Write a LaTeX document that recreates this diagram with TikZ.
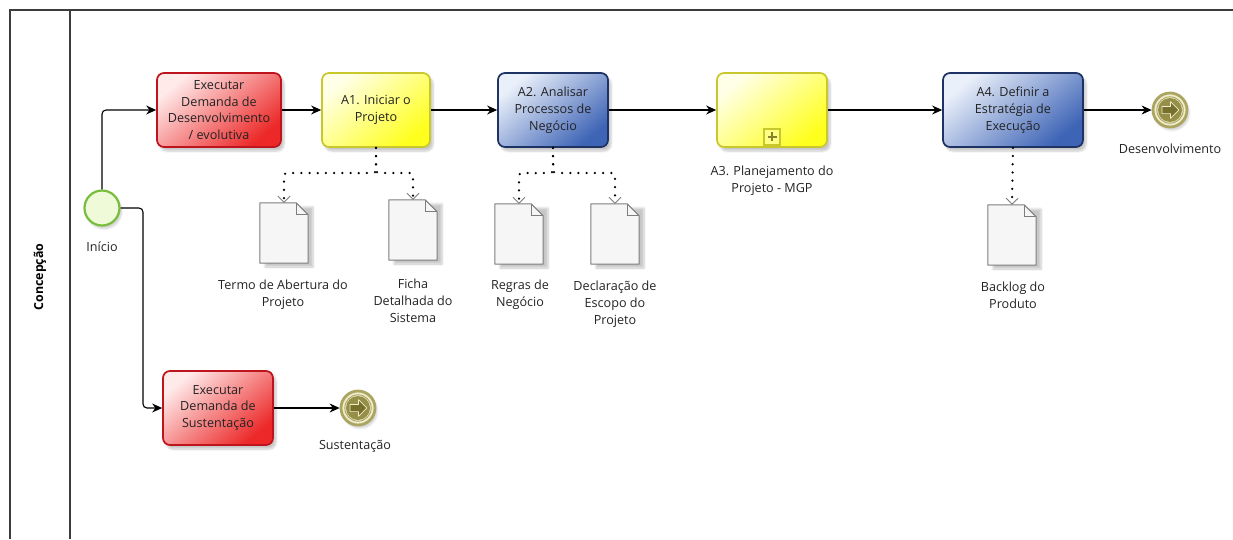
\documentclass[tikz,border=0pt]{standalone}
\usepackage{fontspec}
\setmainfont{Open Sans}
\usetikzlibrary{arrows.meta,shadows.blur,calc}

\definecolor{txt}{RGB}{35,35,35}
\definecolor{frameC}{RGB}{60,60,60}
\definecolor{redB}{RGB}{190,20,30}
\definecolor{redL}{RGB}{255,234,234}
\definecolor{redD}{RGB}{236,40,40}
\definecolor{yelB}{RGB}{200,200,45}
\definecolor{yelL}{RGB}{255,255,232}
\definecolor{yelD}{RGB}{255,255,30}
\definecolor{bluB}{RGB}{30,50,100}
\definecolor{bluL}{RGB}{234,240,250}
\definecolor{bluD}{RGB}{62,100,182}
\definecolor{grnB}{RGB}{120,190,60}
\definecolor{grnF}{RGB}{238,250,216}
\definecolor{olvR}{RGB}{172,165,98}
\definecolor{olvF}{RGB}{240,237,205}
\definecolor{olvD}{RGB}{150,143,72}
\definecolor{olvA}{RGB}{118,112,44}
\definecolor{docB}{RGB}{125,125,125}
\definecolor{docF}{RGB}{246,246,246}

\tikzset{
  lbl/.style={align=center, text=txt, inner sep=0pt,
    font=\fontsize{12.6}{16.8}\selectfont},
  task/.style={lbl, draw, rounded corners=7pt, line width=1.7pt,
    minimum height=74pt,
    blur shadow={shadow xshift=3pt, shadow yshift=-4pt,
      shadow blur steps=6, shadow opacity=22}},
  redtask/.style={task, draw=redB, top color=redL, bottom color=redD,
    shading angle=40, minimum width=#1},
  yeltask/.style={task, draw=yelB, top color=yelL, bottom color=yelD,
    shading angle=40, minimum width=#1},
  blutask/.style={task, draw=bluB, top color=bluL, bottom color=bluD,
    shading angle=40, minimum width=#1},
  startev/.style={circle, draw=grnB, fill=grnF, line width=2.2pt,
    minimum size=35pt, inner sep=0pt,
    blur shadow={shadow xshift=2pt, shadow yshift=-3pt,
      shadow blur steps=5, shadow opacity=20}},
  endev/.style={circle, draw=olvR, fill=olvF, line width=2.8pt,
    minimum size=34pt, inner sep=0pt,
    blur shadow={shadow xshift=2pt, shadow yshift=-3pt,
      shadow blur steps=5, shadow opacity=20}},
  docbox/.style={rectangle, minimum width=48pt, minimum height=60pt,
    inner sep=0pt,
    blur shadow={shadow xshift=5pt, shadow yshift=-4pt,
      shadow blur steps=6, shadow opacity=22}},
  seq/.style={draw=black, line width=1.1pt, rounded corners=4pt,
    -{Stealth[length=10pt, width=9pt]}},
  assoc/.style={draw=black, line width=2.5pt, line cap=round,
    dash pattern=on 0pt off 8.2pt, rounded corners=3pt,
    -{Straight Barb[length=6pt, width=12pt, line width=0.9pt, color=docB]}},
}

% document (data object) with folded corner
\newcommand\docicon[2]{%
  \node[docbox] (#1) at (#2) {};
  \draw[docB, fill=docF, line width=1pt, line join=round]
    (#1.north west) -- ([xshift=-12pt]#1.north east)
    -- ([yshift=-12pt]#1.north east) -- (#1.south east)
    -- (#1.south west) -- cycle;
  \draw[docB, line width=0.8pt]
    ([xshift=-12pt]#1.north east) |- ([yshift=-12pt]#1.north east);
}

% end event: ring, inner disk and right-pointing arrow
\newcommand\finalevent[2]{%
  \node[endev] (#1) at (#2) {};
  \draw[olvR, line width=0.9pt] (#1.center) circle (13.2pt);
  \fill[olvD] (#1.center) circle (12pt);
  \begin{scope}[shift={(#1.center)}]
    \filldraw[fill=olvA, draw=olvF, line width=0.7pt, line join=round]
      (-8,-3.6) -- (0.5,-3.6) -- (0.5,-8.3) -- (8.8,0) -- (0.5,8.3)
      -- (0.5,3.6) -- (-8,3.6) -- cycle;
  \end{scope}
}

\begin{document}
\begin{tikzpicture}[x=1pt, y=-1pt]
\useasboundingbox (0,0) rectangle (1233,539);

% pool and lane frame
\draw[frameC, line width=1.2pt] (1233,10) -- (10,10) -- (10,539);
\draw[frameC, line width=1.2pt] (70,10) -- (70,539);
\node[rotate=90, text=black, font=\fontsize{12.4}{14}\selectfont\bfseries]
  (lane) at (40,277) {Concepção};

% events
\node[startev] (start) at (102,208) {};
\node[lbl] (startL) at (102,247) {Início};
\finalevent{endD}{1170,110}
\node[lbl] (endDL) at (1170,149) {Desenvolvimento};
\finalevent{endS}{358,408}
\node[lbl] (endSL) at (355,446) {Sustentação};

% tasks
\node[redtask=124pt] (t1) at (219,110)
  {Executar\\Demanda de\\Desenvolvimento\\/ evolutiva};
\node[yeltask=108pt] (a1) at (376,110) {A1. Iniciar o\\Projeto};
\node[blutask=110pt] (a2) at (553,110)
  {A2. Analisar\\Processos de\\Negócio};
\node[yeltask=110pt] (a3) at (772,110) {};
\node[blutask=140pt] (a4) at (1013,110)
  {A4. Definir a\\Estratégia de\\Execução};
\node[redtask=110pt] (t2) at (218,408)
  {Executar\\Demanda de\\Sustentação};

% collapsed sub-process marker
\node[draw=yelB, fill=yelD!55!white, line width=1.3pt, minimum size=16pt,
  inner sep=0pt] (plus) at ($(a3.south)+(0,-11)$) {};
\draw[olvA!80!yelB, line width=2.6pt]
  ($(plus.center)+(-4.5,0)$) -- ($(plus.center)+(4.5,0)$)
  ($(plus.center)+(0,-4.5)$) -- ($(plus.center)+(0,4.5)$);
\node[lbl] (a3L) at (772,181) {A3. Planejamento do\\Projeto - MGP};

% data objects
\docicon{d1}{284,233}
\docicon{d2}{413,230}
\docicon{d3}{519,234}
\docicon{d4}{615,234}
\docicon{d5}{1012,235}
\node[lbl] (d1L) at (283,295) {Termo de Abertura do\\Projeto};
\node[lbl] (d2L) at (413,301) {Ficha\\Detalhada do\\Sistema};
\node[lbl] (d3L) at (520,295) {Regras de\\Negócio};
\node[lbl] (d4L) at (615,304) {Declaração de\\Escopo do\\Projeto};
\node[lbl] (d5L) at (1013,295) {Backlog do\\Produto};

% sequence flows
\coordinate (kink) at (143,208);
\draw[seq] (start.north) |- (t1.west);
\draw[seq] (start.east) -- (kink) |- (t2.west);
\draw[seq] (t1.east) -- (a1.west);
\draw[seq] (a1.east) -- (a2.west);
\draw[seq] (a2.east) -- (a3.west);
\draw[seq] (a3.east) -- (a4.west);
\draw[seq] (a4.east) -- (endD.west);
\draw[seq] (t2.east) -- (endS.west);

% data associations
\coordinate (j1) at (376,173);
\coordinate (j2) at (553,173);
\draw[assoc] (a1.south) -- (j1) -| (d1.north);
\draw[assoc] (a1.south) -- (j1) -| (d2.north);
\draw[assoc] (a2.south) -- (j2) -| (d3.north);
\draw[assoc] (a2.south) -- (j2) -| (d4.north);
\draw[assoc] (a4.south) -- (d5.north);
\end{tikzpicture}
\end{document}
